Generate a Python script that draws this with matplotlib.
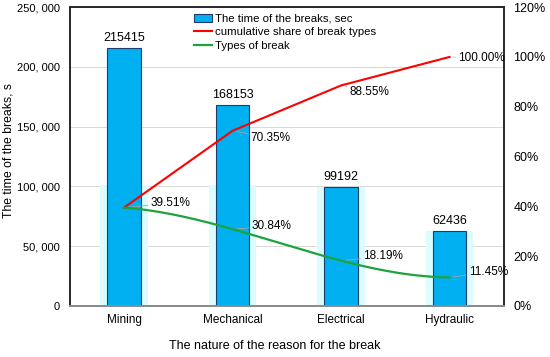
import matplotlib.pyplot as plt
import numpy as np
from matplotlib.ticker import FuncFormatter

plt.rcParams['font.family'] = ['Liberation Sans', 'DejaVu Sans']

categories = ['Mining', 'Mechanical', 'Electrical', 'Hydraulic']
break_time = [215415, 168153, 99192, 62436]
cumulative_share = [39.51, 70.35, 88.55, 100.00]
break_share = [39.51, 30.84, 18.19, 11.45]

# label offsets in points (dx, dy) for the line data labels
cum_offsets = [(19, 3), (13, -5), (6, -5), (6, -1)]
share_offsets = [(14, 2), (16, 3), (14, 4)]

fig = plt.figure(figsize=(5.5, 3.57), dpi=100)
ax = fig.add_axes([0.127, 0.143, 0.789, 0.837])
ax2 = ax.twinx()

x = np.arange(len(categories))

# faint cyan ghost behind bars (as seen in the source image)
ghost = [min(v, 101000) for v in break_time]
ax.bar(x, ghost, width=0.44, color='#dcfdfd', zorder=1)

bars = ax.bar(x, break_time, width=0.31, color='#00b0f0', edgecolor='#1f3a6e',
              linewidth=0.8, zorder=2, label='The time of the breaks, sec')
for xi, v in zip(x, break_time):
    ax.text(xi, v + 3500, str(v), ha='center', va='bottom', fontsize=9)

ax.set_ylim(0, 250000)
ax.set_yticks(np.arange(0, 250001, 50000))
ax.yaxis.set_major_formatter(FuncFormatter(
    lambda v, p: '0' if v == 0 else '{:,}'.format(int(v)).replace(',', ', ')))
ax.set_xlim(-0.5, len(categories) - 0.5)
ax.set_xticks(x)
ax.set_xticklabels(categories, fontsize=8.5)
ax.tick_params(axis='y', labelsize=8, length=0, pad=7)
ax.tick_params(axis='x', length=0, pad=6)
ax.grid(axis='y', color='#d9d9d9', linewidth=0.7, zorder=0)
ax.set_axisbelow(True)
ax.set_ylabel('The time of the breaks, s', fontsize=8.8)
ax.yaxis.set_label_coords(-0.127, 0.52)
ax.set_xlabel('The nature of the reason for the break', fontsize=9)
ax.xaxis.set_label_coords(0.472, -0.115)

l1, = ax2.plot(x, cumulative_share, color='#ff0000', lw=1.5, zorder=4,
               label='cumulative share of break types')

# smoothed line through the break shares
xs = np.linspace(0, len(categories) - 1, 200)
coef = np.polyfit(x, break_share, 3)
l2, = ax2.plot(xs, np.polyval(coef, xs), color='#1ea33c', lw=1.6, zorder=4,
               label='Types of break')

leader = dict(arrowstyle='-', color='#a6a6a6', lw=0.6, shrinkA=0, shrinkB=3)
for xi, v, off in zip(x, cumulative_share, cum_offsets):
    ax2.annotate('{:.2f}%'.format(v), (xi, v), xytext=off, textcoords='offset points',
                 fontsize=8.5, va='center', ha='left', arrowprops=leader)
# first share label coincides with the cumulative one, so skip it
for xi, v, off in zip(x[1:], break_share[1:], share_offsets):
    ax2.annotate('{:.2f}%'.format(v), (xi, v), xytext=off, textcoords='offset points',
                 fontsize=8.5, va='center', ha='left', arrowprops=leader)

ax2.set_ylim(0, 120)
ax2.set_yticks(np.arange(0, 121, 20))
ax2.yaxis.set_major_formatter(FuncFormatter(lambda v, p: '{:.0f}%'.format(v)))
ax2.tick_params(axis='y', labelsize=9, length=0, pad=7)

for a in (ax, ax2):
    for s in ('left', 'top', 'right'):
        a.spines[s].set_color('#262626')
        a.spines[s].set_linewidth(1.2)
    a.spines['bottom'].set_color('#8c8c8c')
    a.spines['bottom'].set_linewidth(1.4)

ax.legend(handles=[bars, l1, l2], loc='upper left', bbox_to_anchor=(0.27, 1.0),
          frameon=False, fontsize=8.2, handlelength=1.6, handletextpad=0.3,
          labelspacing=0.3, borderaxespad=0.2)

fig.savefig('out.png', dpi=100)
